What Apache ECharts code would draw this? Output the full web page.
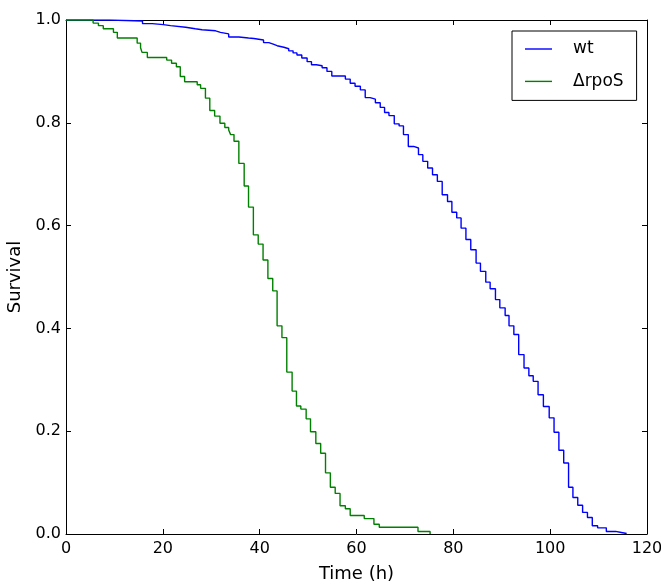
<!DOCTYPE html>
<html>
<head>
<meta charset="utf-8">
<script src="https://cdn.jsdelivr.net/npm/echarts@6/dist/echarts.min.js"></script>
<style>
html,body{margin:0;padding:0;background:#fff;}
#chart{width:661px;height:586px;}
</style>
</head>
<body>
<div id="chart"></div>
<script>
const wtTime = [0, 9, 15.8, 17.8, 20.1, 21.6, 24.7, 26.7, 28.1, 30.9, 31.9, 33.6, 35.7, 37.7, 38.8, 40.8, 41.9, 42.8, 43.6, 45.0, 46.0, 46.9, 47.7, 48.7, 49.8, 50.7, 51.7, 52.9, 53.9, 54.9, 57.7, 58.7, 59.7, 60.8, 61.8, 62.8, 63.9, 64.9, 65.8, 66.7, 67.8, 68.8, 69.7, 70.7, 71.8, 72.8, 73.7, 74.7, 75.7, 76.7, 77.7, 78.8, 79.7, 80.7, 81.6, 82.6, 83.6, 84.7, 85.6, 86.7, 87.6, 88.7, 89.6, 90.7, 91.5, 92.5, 93.5, 94.6, 95.6, 96.5, 97.5, 98.6, 99.8, 100.8, 101.8, 102.8, 103.8, 104.7, 105.7, 106.7, 107.7, 108.7, 109.8, 111.6, 113.5, 114.7, 115.8];
const wtSurv = [1.0, 0.998, 0.993, 0.991, 0.989, 0.986, 0.983, 0.981, 0.979, 0.976, 0.973, 0.967, 0.965, 0.964, 0.961, 0.956, 0.953, 0.950, 0.947, 0.944, 0.940, 0.936, 0.932, 0.926, 0.919, 0.913, 0.911, 0.907, 0.900, 0.891, 0.885, 0.877, 0.871, 0.864, 0.849, 0.846, 0.839, 0.830, 0.820, 0.814, 0.798, 0.794, 0.777, 0.754, 0.751, 0.738, 0.725, 0.712, 0.699, 0.686, 0.660, 0.647, 0.626, 0.615, 0.595, 0.573, 0.553, 0.527, 0.511, 0.490, 0.477, 0.456, 0.440, 0.425, 0.405, 0.388, 0.349, 0.323, 0.308, 0.297, 0.271, 0.248, 0.226, 0.198, 0.163, 0.138, 0.091, 0.071, 0.056, 0.042, 0.032, 0.016, 0.012, 0.005, 0.003, 0.001, 0.0];

const rpoSTime = [0, 5.6, 6.7, 7.7, 9.8, 10.6, 14.7, 15.4, 15.7, 16.8, 20.8, 21.8, 22.8, 23.6, 24.5, 27.1, 27.8, 28.8, 29.7, 30.7, 31.8, 32.8, 33.6, 34.0, 34.7, 35.7, 36.8, 37.7, 38.7, 39.7, 40.7, 41.7, 42.7, 43.6, 44.6, 45.6, 46.7, 47.6, 48.5, 49.6, 50.5, 51.6, 52.6, 53.6, 54.6, 55.6, 56.6, 57.7, 58.7, 61.6, 63.6, 64.7, 72.7, 75.2];
const rpoSSurv = [1.0, 0.994, 0.989, 0.983, 0.976, 0.965, 0.955, 0.946, 0.937, 0.927, 0.922, 0.916, 0.909, 0.890, 0.880, 0.874, 0.867, 0.848, 0.824, 0.813, 0.799, 0.791, 0.786, 0.777, 0.764, 0.721, 0.677, 0.636, 0.582, 0.564, 0.533, 0.497, 0.473, 0.405, 0.382, 0.315, 0.278, 0.249, 0.243, 0.224, 0.199, 0.176, 0.157, 0.119, 0.091, 0.079, 0.055, 0.049, 0.036, 0.030, 0.019, 0.013, 0.005, 0.0];

const seriesNames = ['wt', '\u0394rpoS'];
const xTitle = 'Time (h)';
const yTitle = 'Survival';

const FONT = 'DejaVu Sans';
const chart = echarts.init(document.getElementById('chart'), null, {renderer: 'canvas'});

function pairs(xs, ys) { return xs.map((x, i) => [x, ys[i]]); }

function axisLineStyle() { return {show: true, onZero: false, lineStyle: {color: '#000', width: 1}}; }
function tickStyle() { return {show: true, inside: true, length: 5, lineStyle: {color: '#000', width: 1}}; }

chart.setOption({
  animation: false,
  backgroundColor: '#fff',
  grid: {left: 66, right: 14, top: 20, bottom: 52, containLabel: false, outerBoundsMode: 'none'},
  legend: {
    orient: 'vertical',
    left: 512, top: 31,
    padding: [8, 13, 9, 13],
    borderColor: '#000', borderWidth: 1,
    icon: 'rect',
    itemWidth: 27, itemHeight: 1.4, itemGap: 12.4,
    textStyle: {fontFamily: FONT, fontSize: 17, color: '#000', padding: [0, 0, 0, 16], lineHeight: 20},
    data: seriesNames
  },
  xAxis: [
    {type: 'value', min: 0, max: 120, interval: 20, position: 'bottom',
     name: xTitle, nameLocation: 'middle', nameGap: 31,
     nameTextStyle: {fontFamily: FONT, fontSize: 18, color: '#000'},
     axisLine: axisLineStyle(), axisTick: tickStyle(), splitLine: {show: false},
     axisLabel: {fontFamily: FONT, fontSize: 16, color: '#000', margin: 7}},
    {type: 'value', min: 0, max: 120, interval: 20, position: 'top',
     axisLine: axisLineStyle(), axisTick: tickStyle(), splitLine: {show: false},
     axisLabel: {show: false}}
  ],
  yAxis: [
    {type: 'value', min: 0, max: 1, interval: 0.2, position: 'left',
     name: yTitle, nameLocation: 'middle', nameGap: 32,
     nameTextStyle: {fontFamily: FONT, fontSize: 18, color: '#000'},
     axisLine: axisLineStyle(), axisTick: tickStyle(), splitLine: {show: false},
     axisLabel: {fontFamily: FONT, fontSize: 16, color: '#000', margin: 5,
       formatter: v => v.toFixed(1)}},
    {type: 'value', min: 0, max: 1, interval: 0.2, position: 'right',
     axisLine: axisLineStyle(), axisTick: tickStyle(), splitLine: {show: false},
     axisLabel: {show: false}}
  ],
  series: [
    {name: seriesNames[0], type: 'line', step: 'end', symbol: 'none', showSymbol: false,
     xAxisIndex: 0, yAxisIndex: 0,
     lineStyle: {color: '#0000ff', width: 1.4}, itemStyle: {color: '#0000ff'},
     data: pairs(wtTime, wtSurv)},
    {name: seriesNames[1], type: 'line', step: 'end', symbol: 'none', showSymbol: false,
     xAxisIndex: 0, yAxisIndex: 0,
     lineStyle: {color: '#008000', width: 1.4}, itemStyle: {color: '#008000'},
     data: pairs(rpoSTime, rpoSSurv)}
  ]
});
</script>
</body>
</html>
